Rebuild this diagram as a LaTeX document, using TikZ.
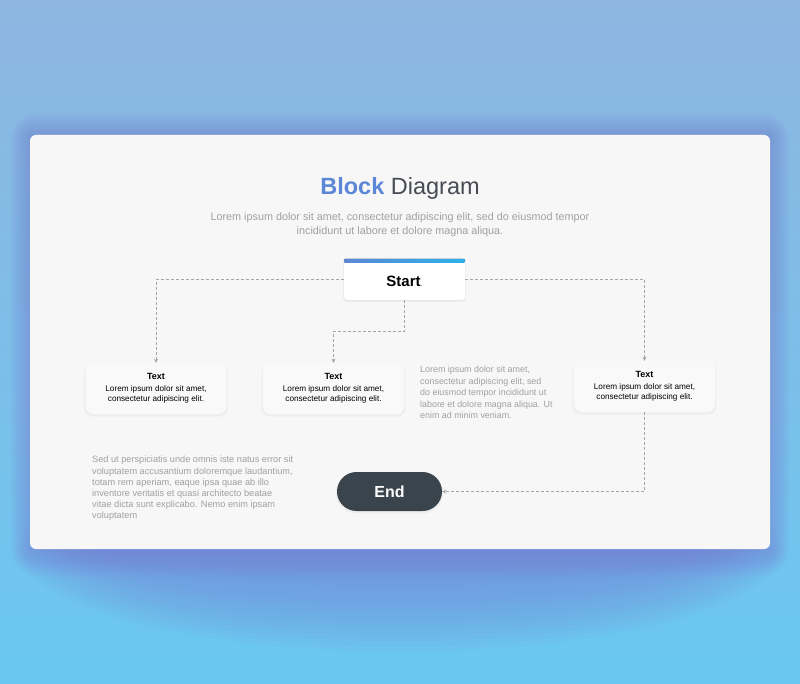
\documentclass[tikz,border=0pt]{standalone}
\usepackage{fontspec}
\setmainfont{Liberation Sans}
\usetikzlibrary{shadows,arrows.meta}
\definecolor{bgtop}{HTML}{8EB6E1}
\definecolor{bgbot}{HTML}{69C8F1}
\definecolor{glow}{HTML}{7A72D2}
\definecolor{card}{HTML}{F7F7F7}
\definecolor{boxfill}{HTML}{F9F9F9}
\definecolor{titleblue}{HTML}{5B87D6}
\definecolor{titlegrey}{HTML}{474B52}
\definecolor{lorem}{HTML}{A0A0A0}
\definecolor{endfill}{HTML}{3A444D}
\definecolor{barleft}{HTML}{5B87D6}
\definecolor{barright}{HTML}{2CB2EA}
\definecolor{link}{HTML}{A6A6A6}
\tikzset{
  softshadow/.style={drop shadow={opacity=.07,shadow xshift=0pt,shadow yshift=-2pt,shadow scale=1.02}},
  textbox/.style={softshadow,fill=boxfill,rounded corners=8pt,minimum width=141pt,minimum height=51pt,
                  inner sep=0pt,align=center,text=black,font=\fontsize{8.2}{10}\selectfont},
  startbox/.style={fill=white,rounded corners=3pt,minimum width=121pt,minimum height=41pt,inner sep=0pt,
                   drop shadow={opacity=.12,shadow xshift=0pt,shadow yshift=-1.5pt,shadow scale=1.01}},
  endbox/.style={softshadow,fill=endfill,rounded corners=19.5pt,minimum width=105pt,minimum height=39pt,
                 inner sep=0pt,text=white,font=\bfseries\fontsize{16}{18}\selectfont},
  para/.style={align=left,anchor=north west,inner sep=0pt,text=lorem},
  link/.style={draw=link,densely dashed,line width=.8pt,-{Stealth[length=4pt,width=4pt]}}
}
\newcommand{\cardtext}{{\fontsize{9}{11}\selectfont\bfseries Text}\\[1.5pt]
  Lorem ipsum dolor sit amet,\\consectetur adipiscing elit.}
\begin{document}
\begin{tikzpicture}[x=1pt,y=-1pt]
\useasboundingbox (0,0) rectangle (800,684);
% background and glow
\shade[top color=bgtop,bottom color=bgbot,middle color=bgtop!55!bgbot] (0,0) rectangle (800,684);
\foreach \i in {1,...,14}
  \fill[glow,opacity=.03,rounded corners=\i*2pt] (30-\i*1.4,135-\i*1.6) rectangle (770+\i*1.4,549+\i*2);
\foreach \i in {1,...,18}
  \fill[glow!85!bgbot,opacity=.05] (400,549) ellipse ({290+\i*5} and {4+\i*5.5});
\fill[card,rounded corners=6pt] (30,135) rectangle (770,549);
% title
\node (title) at (400,188) {\fontsize{23.5}{26}\selectfont\textcolor{titleblue}{\bfseries Block} \textcolor{titlegrey}{Diagram}};
\node[align=center,text=lorem,font=\fontsize{10.8}{14}\selectfont] (sub) at (400,225)
  {Lorem ipsum dolor sit amet, consectetur adipiscing elit, sed do eiusmod tempor\\incididunt ut labore et dolore magna aliqua.};
% blocks
\node[startbox] (start) at (404.5,279.5) {};
\fill[left color=barleft,right color=barright,rounded corners=2pt] (start.north west) rectangle ([yshift=-4pt]start.north east);
\node (startlabel) at ([yshift=-2pt]start.center) {\bfseries\fontsize{15}{17}\selectfont Start\textcolor{lorem}{\fontsize{7}{8}\selectfont .}};
\node[textbox] (boxa) at (156,388.5) {\cardtext};
\node[textbox] (boxb) at (333.5,388.5) {\cardtext};
\node[textbox] (boxc) at (644.5,386.5) {\cardtext};
\node[endbox] (end) at (389.5,491.5) {End};
% paragraphs
\node[para,font=\fontsize{8.9}{11.5}\selectfont] (note1) at (420,366)
  {Lorem ipsum dolor sit amet,\\consectetur adipiscing elit, sed\\do eiusmod tempor incididunt ut\\labore et dolore magna aliqua. Ut\\enim ad minim veniam.};
\node[para,font=\fontsize{9.2}{11.2}\selectfont] (note2) at (92,456)
  {Sed ut perspiciatis unde omnis iste natus error sit\\voluptatem accusantium doloremque laudantium,\\totam rem aperiam, eaque ipsa quae ab illo\\inventore veritatis et quasi architecto beatae\\vitae dicta sunt explicabo. Nemo enim ipsam\\voluptatem};
% connectors
\draw[link] (start.west) -| (boxa.north);
\draw[link] (start.south) -- ++(0,31) -| (boxb.north);
\draw[link] (start.east) -| (boxc.north);
\draw[link] (boxc.south) |- (end.east);
\end{tikzpicture}
\end{document}
